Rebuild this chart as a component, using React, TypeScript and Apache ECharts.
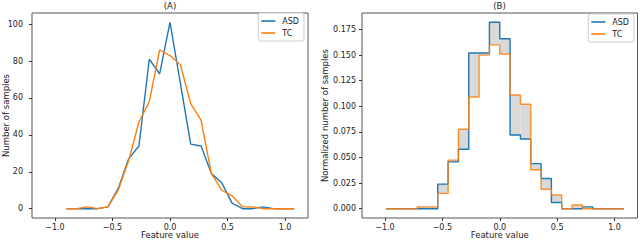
import React, { useEffect, useRef } from "react";
import * as echarts from "echarts";

// Panel (A): counts per feature value
const xA = [-0.9, -0.81, -0.72, -0.63, -0.54, -0.45, -0.36, -0.27, -0.18, -0.09, 0, 0.09, 0.18, 0.27, 0.36, 0.45, 0.54, 0.63, 0.72, 0.81, 0.9, 0.99, 1.08];
const asdCounts = [0, 0, 0, 0, 1, 11, 27, 34, 81, 73, 101, 68, 35, 34, 19, 14, 3, 0, 0, 1, 0, 0, 0];
const tcCounts = [0, 0, 1, 0, 1, 10, 26, 47, 58, 86, 83, 78, 57, 48, 19, 10, 7, 1, 1, 0, 0, 0, 0];

// Panel (B): normalized histogram, bin edges and values
const edgesB = [-0.99, -0.9, -0.81, -0.72, -0.63, -0.54, -0.45, -0.36, -0.27, -0.18, -0.09, 0, 0.09, 0.18, 0.27, 0.36, 0.45, 0.54, 0.63, 0.72, 0.81, 0.9, 0.99, 1.08];
const asdNorm = [0, 0, 0, 0, 0, 0.024, 0.0457, 0.058, 0.152, 0.152, 0.182, 0.166, 0.072, 0.068, 0.044, 0.0295, 0.006, 0, 0, 0.0018, 0, 0, 0];
const tcNorm = [0, 0, 0, 0.0018, 0.0018, 0.0149, 0.0474, 0.0775, 0.109, 0.15, 0.16, 0.151, 0.111, 0.102, 0.038, 0.019, 0.0133, 0, 0.0036, 0, 0, 0, 0];

const xTicks = [-1.0, -0.5, 0.0, 0.5, 1.0];
const yTicksA = [0, 20, 40, 60, 80, 100];
const yTicksB = [0, 0.025, 0.05, 0.075, 0.1, 0.125, 0.15, 0.175];

const BLUE = "#1f77b4";
const ORANGE = "#ff7f0e";
const FONT = "DejaVu Sans";
const TXT = "#222";
const TICK_FS = 8;
const LABEL_FS = 8.5;

const fmtX = (v: number) => (v < 0 ? "\u2212" + Math.abs(v).toFixed(1) : v.toFixed(1));

function stepData(edges: number[], vals: number[]) {
  const d: number[][] = vals.map((v, i) => [edges[i], v]);
  d.push([edges[edges.length - 1], vals[vals.length - 1]]);
  return d;
}

export default function App() {
  const ref = useRef<HTMLDivElement>(null);
  useEffect(() => {
    if (!ref.current) return;
    const chart = echarts.init(ref.current, undefined, { renderer: "svg" });

    const gridA = { left: 32, top: 13, width: 276, height: 205 };
    const gridB = { left: 362, top: 13, width: 275.5, height: 205 };

    const xAxisCommon = (gi: number) => ({
      type: "value",
      gridIndex: gi,
      min: -1.2,
      max: 1.2,
      name: "Feature value",
      nameLocation: "middle",
      nameGap: 12.5,
      nameMoveOverlap: false,
      nameTextStyle: { fontFamily: FONT, fontSize: LABEL_FS, color: TXT, lineHeight: 9, verticalAlign: "top" },
      axisLine: { show: false, onZero: false },
      splitLine: { show: false },
      axisTick: { show: true, inside: false, length: 3, lineStyle: { color: "#333" }, customValues: xTicks },
      axisLabel: {
        fontFamily: FONT, fontSize: TICK_FS, color: TXT, margin: 5,
        customValues: xTicks, formatter: fmtX,
      },
    });

    const fillData = asdNorm.map((a, i) => [edgesB[i], edgesB[i + 1], Math.min(a, tcNorm[i]), Math.max(a, tcNorm[i])]);

    const legendCommon = {
      orient: "vertical",
      backgroundColor: "#fff",
      borderColor: "#ccc",
      borderWidth: 1,
      borderRadius: 2,
      padding: [4, 5, 4, 3],
      itemGap: 4,
      itemWidth: 14,
      itemHeight: 1.6,
      icon: "rect",
      textStyle: { fontFamily: FONT, fontSize: TICK_FS, color: TXT, padding: [0, 0, 0, 2] },
      data: [
        { name: "ASD", itemStyle: { color: BLUE } },
        { name: "TC", itemStyle: { color: ORANGE } },
      ],
      selectedMode: false,
    };

    chart.setOption({
      animation: false,
      backgroundColor: "#fff",
      title: [
        { text: "(A)", left: 170, top: 1, padding: 0, textAlign: "center", textStyle: { fontFamily: FONT, fontSize: LABEL_FS, fontWeight: "normal", color: TXT } },
        { text: "(B)", left: 499.5, top: 1, padding: 0, textAlign: "center", textStyle: { fontFamily: FONT, fontSize: LABEL_FS, fontWeight: "normal", color: TXT } },
      ],
      legend: [
        { ...legendCommon, right: 640 - 304, top: 13 },
        { ...legendCommon, right: 640 - 634, top: 14 },
      ],
      grid: [
        { ...gridA, show: true, borderColor: "#555", borderWidth: 1, backgroundColor: "transparent", outerBoundsMode: "none", containLabel: false },
        { ...gridB, show: true, borderColor: "#555", borderWidth: 1, backgroundColor: "transparent", outerBoundsMode: "none", containLabel: false },
      ],
      xAxis: [xAxisCommon(0), xAxisCommon(1)],
      yAxis: [
        {
          type: "value", gridIndex: 0, min: -5.05, max: 106.05,
          name: "Number of samples", nameLocation: "middle", nameGap: 22, nameRotate: 90, nameMoveOverlap: false,
          nameTextStyle: { fontFamily: FONT, fontSize: LABEL_FS, color: TXT, lineHeight: 9 },
          axisLine: { show: false, onZero: false }, splitLine: { show: false },
          axisTick: { show: true, inside: false, length: 3, lineStyle: { color: "#333" }, customValues: yTicksA },
          axisLabel: { fontFamily: FONT, fontSize: TICK_FS, color: TXT, margin: 9, customValues: yTicksA, formatter: (v: number) => String(v) },
        },
        {
          type: "value", gridIndex: 1, min: -0.0091, max: 0.1911,
          name: "Normalized number of samples", nameLocation: "middle", nameGap: 32.5, nameRotate: 90, nameMoveOverlap: false,
          nameTextStyle: { fontFamily: FONT, fontSize: LABEL_FS, color: TXT, lineHeight: 9 },
          axisLine: { show: false, onZero: false }, splitLine: { show: false },
          axisTick: { show: true, inside: false, length: 3, lineStyle: { color: "#333" }, customValues: yTicksB },
          axisLabel: { fontFamily: FONT, fontSize: TICK_FS, color: TXT, margin: 6, customValues: yTicksB, formatter: (v: number) => v.toFixed(3) },
        },
      ],
      series: [
        {
          name: "ASD", type: "line", xAxisIndex: 0, yAxisIndex: 0,
          data: xA.map((x, i) => [x, asdCounts[i]]),
          showSymbol: false, symbol: "none", lineStyle: { color: BLUE, width: 1.4 }, itemStyle: { color: BLUE },
        },
        {
          name: "TC", type: "line", xAxisIndex: 0, yAxisIndex: 0,
          data: xA.map((x, i) => [x, tcCounts[i]]),
          showSymbol: false, symbol: "none", lineStyle: { color: ORANGE, width: 1.4 }, itemStyle: { color: ORANGE },
        },
        {
          name: "diff", type: "custom", xAxisIndex: 1, yAxisIndex: 1,
          data: fillData,
          encode: { x: [0, 1], y: [2, 3] },
          renderItem: (params: any, api: any) => {
            const p0 = api.coord([api.value(0), api.value(3)]);
            const p1 = api.coord([api.value(1), api.value(2)]);
            return {
              type: "rect",
              shape: { x: p0[0], y: p0[1], width: p1[0] - p0[0], height: p1[1] - p0[1] },
              style: { fill: "#d9d9d9" },
            };
          },
          z: 1,
        },
        {
          name: "ASD", type: "line", xAxisIndex: 1, yAxisIndex: 1, step: "end",
          data: stepData(edgesB, asdNorm),
          showSymbol: false, symbol: "none", lineStyle: { color: BLUE, width: 1.4 }, itemStyle: { color: BLUE }, z: 2,
        },
        {
          name: "TC", type: "line", xAxisIndex: 1, yAxisIndex: 1, step: "end",
          data: stepData(edgesB, tcNorm),
          showSymbol: false, symbol: "none", lineStyle: { color: ORANGE, width: 1.4, opacity: 0.85 }, itemStyle: { color: ORANGE }, z: 3,
        },
      ],
    });
    return () => chart.dispose();
  }, []);
  return <div ref={ref} style={{ width: 640, height: 240, position: "absolute", left: 0, top: 0 }} />;
}
